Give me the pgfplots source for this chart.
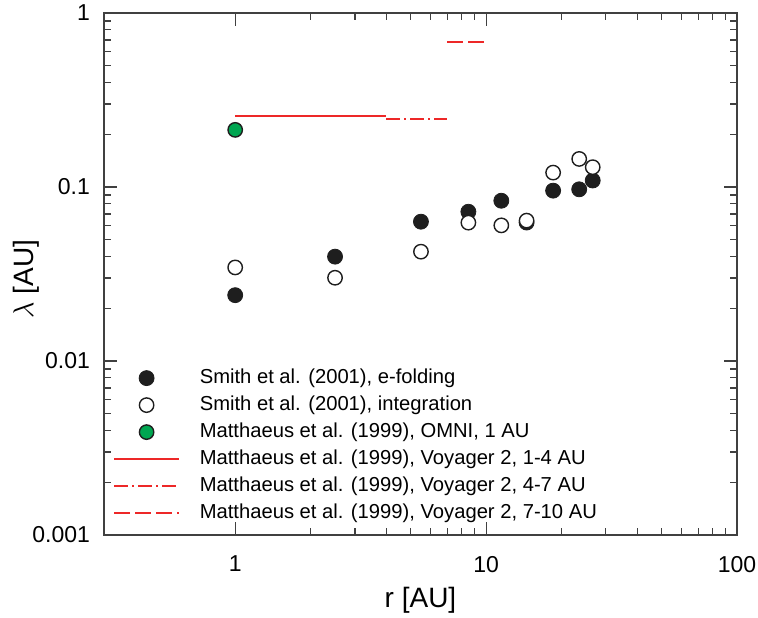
\documentclass[border=0pt]{standalone}
\usepackage{fontspec}
\setmainfont{Liberation Sans}
\usepackage{pgfplots}
\pgfplotsset{compat=1.18}
\definecolor{lred}{RGB}{237,40,40}
\definecolor{lgreen}{RGB}{0,166,81}
\definecolor{dk}{RGB}{30,30,30}
\begin{document}
\begin{tikzpicture}
\path[use as bounding box] (-52pt,-41pt) rectangle (327pt,267.5pt);
\begin{axis}[
  scale only axis, width=316.5pt, height=261pt,
  xmode=log, ymode=log,
  xmin=0.3, xmax=100, ymin=0.001, ymax=1,
  axis line style={black!75, line width=0.6pt},
  every tick/.style={black!75, line width=0.6pt},
  tick align=inside, major tick length=6.5pt, minor tick length=3.5pt,
  xtick={1,10,100}, xticklabels={1,10,100},
  ytick={0.001,0.01,0.1,1}, yticklabels={0.001,0.01,0.1,1},
  /pgf/number format/assume math mode=true,
  tick label style={font=\fontsize{11.5}{13}\selectfont},
  every x tick label/.append style={yshift=-7pt},
  every y tick label/.append style={xshift=-3.5pt},
  xlabel={r [AU]}, ylabel={$\lambda$ [AU]},
  label style={font=\fontsize{14}{16}\selectfont},
  xlabel style={at={(axis description cs:0.5,-0.1245)}, anchor=center},
  ylabel style={at={(axis description cs:-0.123,0.49)}, anchor=center},
  legend image code/.code={\draw[mark repeat=2,mark phase=2,#1] plot coordinates {(0pt,0pt) (16.25pt,0pt) (32.5pt,0pt)};},
  legend cell align=left,
  legend style={draw=none, fill=none, at={(axis description cs:0,0)}, anchor=south west,
    xshift=4.5pt, yshift=4.5pt,
    font=\fontsize{10.1}{12}\selectfont, row sep=1pt, inner sep=0pt,
    nodes={inner sep=1pt, text height=8pt, text depth=2.5pt},
    /tikz/every odd column/.style={column sep=9pt}},
]
\addplot[only marks, mark=*, mark size=3.75pt, draw=dk, fill=dk] coordinates {
(1,0.0239) (2.5,0.0398) (5.5,0.0632) (8.5,0.0721) (11.5,0.0834) (14.5,0.0625) (18.5,0.0953) (23.5,0.097) (26.6,0.109)};
\addlegendentry{Smith et al. (2001), e-folding}
\addplot[only marks, mark=*, mark size=3.6pt, draw=dk, fill=white, line width=0.7pt] coordinates {
(1,0.0345) (2.5,0.0301) (5.5,0.0425) (8.5,0.0624) (11.5,0.0602) (14.5,0.0641) (18.5,0.121) (23.5,0.145) (26.6,0.130)};
\addlegendentry{Smith et al. (2001), integration}
\addplot[only marks, mark=*, mark size=3.6pt, draw=dk, fill=lgreen, line width=0.7pt] coordinates {(1,0.213)};
\addlegendentry{Matthaeus et al. (1999), OMNI, 1 AU}
\addplot[lred, line width=0.7pt] coordinates {(1,0.256) (4,0.256)};
\addlegendentry{Matthaeus et al. (1999), Voyager 2, 1-4 AU}
\addplot[lred, line width=0.7pt, dash pattern=on 7pt off 2pt on 1pt off 2pt] coordinates {(4,0.246) (7,0.246)};
\addlegendentry{Matthaeus et al. (1999), Voyager 2, 4-7 AU}
\addplot[lred, line width=0.7pt, dash pattern=on 8pt off 2.5pt] coordinates {(7,0.681) (10,0.681)};
\addlegendentry{Matthaeus et al. (1999), Voyager 2, 7-10 AU}
\end{axis}
\end{tikzpicture}
\end{document}
